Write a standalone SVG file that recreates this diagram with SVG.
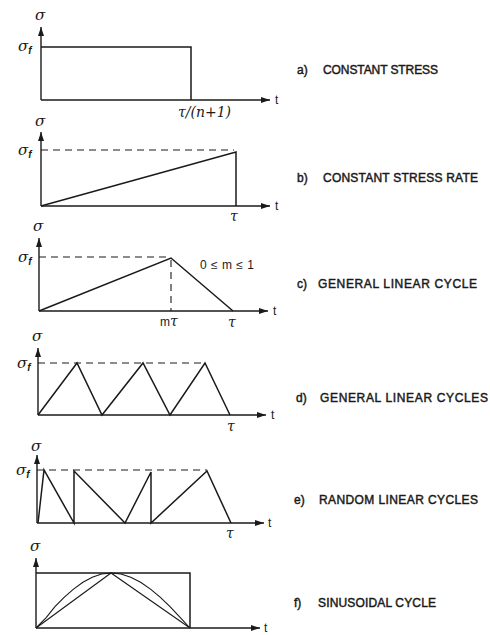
<svg xmlns="http://www.w3.org/2000/svg" width="490" height="635" viewBox="0 0 490 635">
<style>
.ax{fill:none;stroke:#1a1a1a;stroke-width:1.4}
.ln{fill:none;stroke:#1a1a1a;stroke-width:1.5;stroke-linejoin:miter}
.thin{fill:none;stroke:#1a1a1a;stroke-width:1.1}
.ds{fill:none;stroke:#1a1a1a;stroke-width:1.1;stroke-dasharray:7 5}
.sg{font-family:"DejaVu Serif","Liberation Serif",serif;font-style:italic;font-size:15px;fill:#1a1a1a}
.sub{font-family:"Liberation Sans",sans-serif;font-size:10px;font-weight:bold}
.tk{font-family:"DejaVu Serif","Liberation Serif",serif;font-style:italic;font-size:14px;fill:#1a1a1a}
.tt{font-family:"Liberation Sans",sans-serif;font-size:12px;fill:#1a1a1a}
.lb{font-family:"Liberation Sans",sans-serif;font-size:12px;fill:#1a1a1a;stroke:#1a1a1a;stroke-width:0.45}
</style>
<defs>
<marker id="ar" markerUnits="userSpaceOnUse" markerWidth="10" markerHeight="8" refX="9" refY="4" orient="auto">
<path d="M0,1 L9,4 L0,7 Z" fill="#1a1a1a"/>
</marker>
</defs>

<g id="panel-a">
<line class="ax" x1="41" y1="100" x2="41" y2="27" marker-end="url(#ar)"/>
<line class="ax" x1="41" y1="100" x2="270" y2="100" marker-end="url(#ar)"/>
<polyline class="ln" points="41,47 191,47 191,100"/>
<text class="sg" x="35" y="20">σ</text>
<text class="sg" x="18" y="51">σ<tspan class="sub" dy="3">f</tspan></text>
<text class="tt" x="275" y="104">t</text>
<text class="tk" x="178" y="117">τ/(n+1)</text>
<text class="lb" x="297" y="74">a)</text>
<text class="lb" x="323" y="74" textLength="115" lengthAdjust="spacing">CONSTANT STRESS</text>
</g>

<g id="panel-b">
<line class="ax" x1="41" y1="206" x2="41" y2="132" marker-end="url(#ar)"/>
<line class="ax" x1="41" y1="206" x2="270" y2="206" marker-end="url(#ar)"/>
<line class="ds" x1="41" y1="150" x2="234" y2="150"/>
<polyline class="ln" points="41,206 236,152 236,206"/>
<text class="sg" x="35" y="126">σ</text>
<text class="sg" x="18" y="155">σ<tspan class="sub" dy="3">f</tspan></text>
<text class="tt" x="275" y="210">t</text>
<text class="tk" x="230" y="221">τ</text>
<text class="lb" x="297" y="182">b)</text>
<text class="lb" x="323" y="182" textLength="155" lengthAdjust="spacing">CONSTANT STRESS RATE</text>
</g>

<g id="panel-c">
<line class="ax" x1="39" y1="311" x2="39" y2="238" marker-end="url(#ar)"/>
<line class="ax" x1="39" y1="311" x2="268" y2="311" marker-end="url(#ar)"/>
<line class="ds" x1="39" y1="257" x2="169" y2="257"/>
<line class="ds" x1="171" y1="260" x2="171" y2="311"/>
<polyline class="ln" points="39,311 171,258 233,311"/>
<text class="sg" x="33" y="231">σ</text>
<text class="sg" x="18" y="262">σ<tspan class="sub" dy="3">f</tspan></text>
<text class="tt" x="273" y="315">t</text>
<text class="tt" x="200" y="269" textLength="54" lengthAdjust="spacing">0 ≤ m ≤ 1</text>
<text class="tt" x="160" y="326">m<tspan class="tk" font-size="13">τ</tspan></text>
<text class="tk" x="228" y="327">τ</text>
<text class="lb" x="297" y="288">c)</text>
<text class="lb" x="318" y="288" textLength="159" lengthAdjust="spacing">GENERAL LINEAR CYCLE</text>
</g>

<g id="panel-d">
<line class="ax" x1="38" y1="415" x2="38" y2="348" marker-end="url(#ar)"/>
<line class="ax" x1="38" y1="415" x2="266" y2="415" marker-end="url(#ar)"/>
<line class="ds" x1="38" y1="363" x2="205" y2="363"/>
<polyline class="ln" points="38,415 77,363 102,415 143,363 170,415 205,363 230,415"/>
<text class="sg" x="32" y="341">σ</text>
<text class="sg" x="17" y="368">σ<tspan class="sub" dy="3">f</tspan></text>
<text class="tt" x="271" y="419">t</text>
<text class="tk" x="227" y="431">τ</text>
<text class="lb" x="296" y="402">d)</text>
<text class="lb" x="320" y="402" textLength="168" lengthAdjust="spacing">GENERAL LINEAR CYCLES</text>
</g>

<g id="panel-e">
<line class="ax" x1="37" y1="523" x2="37" y2="455" marker-end="url(#ar)"/>
<line class="ax" x1="37" y1="523" x2="264" y2="523" marker-end="url(#ar)"/>
<line class="ds" x1="37" y1="470" x2="207" y2="470"/>
<polyline class="ln" points="38,523 44,470 74,523 74,471 125,523 151,472 151,523 207,471 231,523"/>
<text class="sg" x="31" y="451">σ</text>
<text class="sg" x="16" y="475">σ<tspan class="sub" dy="3">f</tspan></text>
<text class="tt" x="268" y="527">t</text>
<text class="tk" x="226" y="538">τ</text>
<text class="lb" x="294" y="504">e)</text>
<text class="lb" x="319" y="504" textLength="159" lengthAdjust="spacing">RANDOM LINEAR CYCLES</text>
</g>

<g id="panel-f">
<line class="ax" x1="36" y1="628" x2="36" y2="558" marker-end="url(#ar)"/>
<line class="ax" x1="36" y1="628" x2="260" y2="628" marker-end="url(#ar)"/>
<polyline class="ln" points="36,573 190,573 190,628"/>
<polyline class="thin" points="36,628 111,573 190,628"/>
<polyline class="thin" points="36,628 46.4,617.3 54.75,606.9 64.1,597.4 73.5,589.1 82.9,582.3 92.25,577.2 101.6,574 111,573 120.9,574 130.75,577.2 140.6,582.3 150.5,589.1 160.4,597.4 170.25,606.9 180.1,617.3 190,628"/>
<text class="sg" x="30" y="551">σ</text>
<text class="tt" x="264" y="632" font-size="10">t</text>
<text class="lb" x="294" y="607">f)</text>
<text class="lb" x="318" y="607" textLength="118" lengthAdjust="spacing">SINUSOIDAL CYCLE</text>
</g>
</svg>
